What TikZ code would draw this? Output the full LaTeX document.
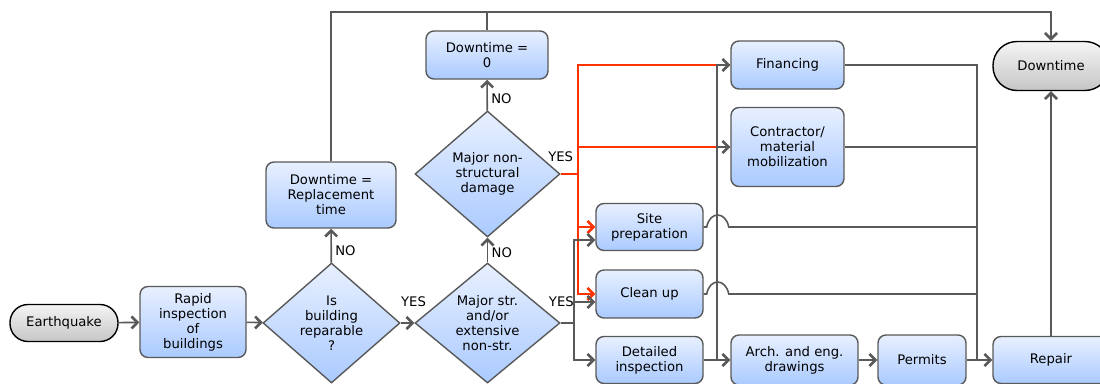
\documentclass[tikz,border=0pt]{standalone}
\usepackage{fontspec}
\setmainfont{DejaVu Sans}
\usepackage{xcolor}
\usetikzlibrary{shapes.geometric,arrows.meta}
\definecolor{boxtop}{RGB}{232,240,255}
\definecolor{boxbot}{RGB}{170,202,255}
\definecolor{endtop}{RGB}{244,244,244}
\definecolor{endbot}{RGB}{198,198,198}
\definecolor{linegray}{RGB}{89,89,89}
\definecolor{yesred}{RGB}{255,51,0}
\begin{document}
\begin{tikzpicture}[x=1pt,y=-1pt,
    font=\fontsize{13.2}{15}\selectfont,
    >={Straight Barb[length=6pt,width=12pt,line width=2.6pt]},
    task/.style={draw=linegray, line width=1.4pt, rounded corners=8pt, top color=boxtop, bottom color=boxbot, align=center, inner sep=1pt},
    decision/.style={draw=linegray, line width=1.4pt, diamond, aspect=1.15, top color=boxtop, bottom color=boxbot, align=center, inner sep=0pt},
    terminal/.style={draw=black, line width=1.4pt, top color=endtop, bottom color=endbot, align=center},
    flow/.style={draw=linegray, line width=1.6pt},
    yes/.style={draw=yesred, line width=1.6pt}]
    \useasboundingbox (0,0) rectangle (1100,383);
    \node[terminal, rounded corners=18pt, minimum width=108pt, minimum height=37pt] (eq) at (64,323) {Earthquake};
    \node[task, minimum width=106pt, minimum height=71pt] (rapid) at (193,322) {Rapid\\inspection\\of\\buildings};
    \node[decision, minimum width=137pt, minimum height=120pt] (repq) at (331.5,323) {Is\\building\\reparable\\?};
    \node[decision, minimum width=145pt, minimum height=120pt] (majstr) at (487.5,323) {Major str.\\and/or\\extensive\\non-str.};
    \node[decision, minimum width=145pt, minimum height=126pt] (majnon) at (487.5,174) {Major non-\\structural\\damage};
    \node[task, minimum width=122pt, minimum height=48pt] (dtzero) at (487,55) {Downtime =\\0};
    \node[task, minimum width=130pt, minimum height=66pt] (dtrepl) at (331,195) {Downtime =\\Replacement\\time};
    \node[task, minimum width=113pt, minimum height=48pt] (fin) at (787.5,65) {Financing};
    \node[task, minimum width=113pt, minimum height=79pt] (contr) at (787.5,147) {Contractor/\\material\\mobilization};
    \node[task, minimum width=107pt, minimum height=47pt] (site) at (649.5,227) {Site\\preparation};
    \node[task, minimum width=107pt, minimum height=48pt] (clean) at (649.5,294) {Clean up};
    \node[task, minimum width=107pt, minimum height=47pt] (detail) at (649.5,360) {Detailed\\inspection};
    \node[task, minimum width=127pt, minimum height=50pt] (arch) at (794.5,360) {Arch. and eng.\\drawings};
    \node[task, minimum width=88pt, minimum height=50pt] (permits) at (922,360) {Permits};
    \node[task, minimum width=116pt, minimum height=47pt] (repair) at (1051,360) {Repair};
    \node[terminal, rounded corners=24pt, minimum width=116pt, minimum height=49pt] (downtime) at (1051,66) {Downtime};
    \coordinate (topbus) at (331,12);
    \coordinate (splitA) at (574,323);
    \coordinate (splitB) at (578,174);
    \coordinate (splitC) at (717,360);
    \coordinate (splitD) at (977,360);
    \draw[flow,->] (eq) -- (rapid);
    \draw[flow,->] (rapid) -- (repq);
    \draw[flow,->] (repq) -- node[above=12pt, xshift=6pt]{YES} (majstr);
    \draw[flow,->] (repq) -- node[right, yshift=-5pt]{NO} (dtrepl);
    \draw[flow,->] (majstr) -- node[right, yshift=-3pt]{NO} (majnon);
    \draw[flow,->] (majnon) -- node[right, yshift=-4pt]{NO} (dtzero);
    \draw[flow,->] (dtrepl) |- (downtime.north |- topbus) -- (downtime);
    \draw[flow] (dtzero) -- (dtzero |- topbus);
    \draw[yes] (majnon) -- node[pos=0, above=8pt]{YES} (splitB);
    \draw[yes] (splitB) |- (fin);
    \draw[yes] (splitB) |- (contr);
    \draw[yes,->] (splitB) |- (site);
    \draw[yes,->] (splitB) |- (clean);
    \draw[flow] (majstr) -- node[above=12pt, xshift=-6pt]{YES} (splitA);
    \draw[flow,->] (splitA) |- ([yshift=-13pt]site.west);
    \draw[flow,->] (splitA) |- ([yshift=-8pt]clean.west);
    \draw[flow,->] (splitA) |- (detail);
    \draw[flow] (detail) -- (splitC);
    \draw[flow,->] (splitC) |- (fin);
    \draw[flow,->] (splitC) |- (contr);
    \draw[flow,->] (splitC) -- (arch);
    \draw[flow,->] (arch) -- (permits);
    \draw[flow,->] (permits) -- (repair);
    \draw[flow] (fin) -| (splitD);
    \draw[flow] (contr) -| (splitD);
    \draw[flow] (site.east) -- ++(3,0) .. controls +(3,-16) and +(-3,-16) .. ++(22,0) -| (splitD);
    \draw[flow] (clean.east) -- ++(3,0) .. controls +(3,-16) and +(-3,-16) .. ++(22,0) -| (splitD);
    \draw[flow,->] (repair) -- (downtime);
\end{tikzpicture}
\end{document}
